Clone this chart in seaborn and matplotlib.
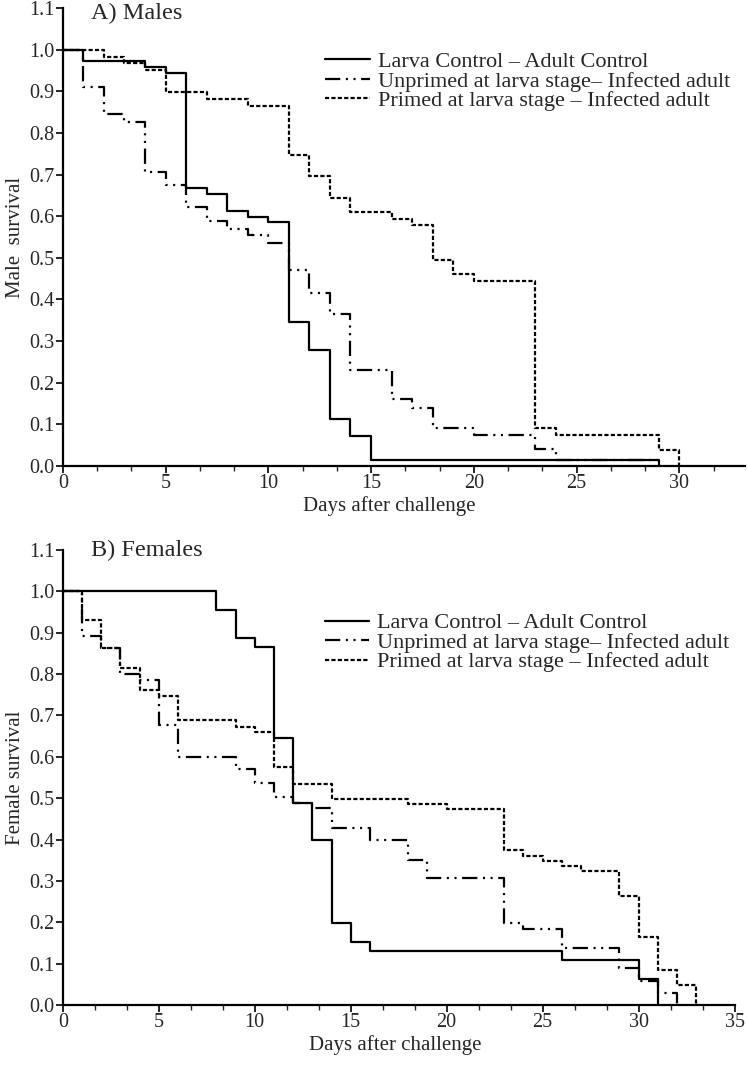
import matplotlib
matplotlib.use("Agg")
import matplotlib.pyplot as plt
from matplotlib.ticker import MultipleLocator
import pandas as pd
import seaborn as sns

# ------------------------------------------------------
# Kaplan-Meier style survival data
# ------------------------------------------------------
groups = [
    "Larva Control \u2013 Adult Control",
    "Unprimed at larva stage\u2013 Infected adult",
    "Primed at larva stage \u2013 Infected adult",
]

# A) Males
male_days_control = [0, 1, 4, 5, 6, 7, 8, 9, 10, 11, 12, 13, 14, 15, 29]
male_surv_control = [1.0, 0.972, 0.958, 0.944, 0.668, 0.654, 0.612, 0.598, 0.586,
                     0.346, 0.278, 0.112, 0.071, 0.015, 0.0]

male_days_unprimed = [0, 1, 2, 3, 4, 5, 6, 7, 8, 9, 10, 11, 12, 13, 14, 16, 17,
                      18, 20, 23, 24, 29]
male_surv_unprimed = [1.0, 0.91, 0.846, 0.826, 0.706, 0.674, 0.622, 0.588, 0.57,
                      0.554, 0.536, 0.47, 0.416, 0.366, 0.23, 0.16, 0.14, 0.092,
                      0.074, 0.04, 0.015, 0.0]

male_days_primed = [0, 2, 3, 4, 5, 7, 9, 11, 12, 13, 14, 16, 17, 18, 19, 20, 23,
                    24, 29, 30]
male_surv_primed = [1.0, 0.982, 0.968, 0.95, 0.898, 0.882, 0.864, 0.746, 0.696,
                    0.644, 0.61, 0.594, 0.578, 0.494, 0.46, 0.444, 0.092, 0.074,
                    0.038, 0.0]

# B) Females
female_days_control = [0, 8, 9, 10, 11, 12, 13, 14, 15, 16, 26, 30, 31]
female_surv_control = [1.0, 0.956, 0.887, 0.866, 0.645, 0.488, 0.398, 0.198,
                       0.153, 0.131, 0.108, 0.062, 0.0]

female_days_unprimed = [0, 1, 2, 3, 4, 5, 6, 9, 10, 11, 12, 13, 14, 16, 18, 19,
                        23, 24, 26, 29, 30, 31, 32]
female_surv_unprimed = [1.0, 0.893, 0.863, 0.80, 0.786, 0.677, 0.6, 0.57, 0.536,
                        0.504, 0.488, 0.476, 0.427, 0.399, 0.351, 0.306, 0.198,
                        0.183, 0.137, 0.089, 0.059, 0.03, 0.0]

female_days_primed = [0, 1, 2, 3, 4, 5, 6, 9, 10, 11, 12, 14, 18, 20, 23, 24,
                      25, 26, 27, 29, 30, 31, 32, 33]
female_surv_primed = [1.0, 0.931, 0.863, 0.815, 0.762, 0.748, 0.688, 0.673,
                      0.661, 0.575, 0.535, 0.498, 0.486, 0.474, 0.375, 0.36,
                      0.349, 0.335, 0.324, 0.264, 0.165, 0.085, 0.048, 0.0]

dash_map = {
    groups[0]: "",
    groups[1]: (11, 4, 1.5, 4, 1.5, 4),
    groups[2]: (3, 1.6),
}


def to_frame(days_list, surv_list):
    parts = []
    for g, d, s in zip(groups, days_list, surv_list):
        parts.append(pd.DataFrame({"day": d, "survival": s, "group": g}))
    return pd.concat(parts, ignore_index=True)


def plot_panel(ax, df, title, ylabel, xmax, leg_anchor, xlabel_x):
    sns.lineplot(data=df, x="day", y="survival", style="group",
                 style_order=groups, dashes=dash_map, color="black",
                 estimator=None, drawstyle="steps-post", linewidth=1.6, ax=ax)
    ax.set_xlim(0, xmax)
    ax.set_ylim(0, 1.1)
    ax.xaxis.set_major_locator(MultipleLocator(5))
    ax.xaxis.set_minor_locator(MultipleLocator(5 / 3))
    ax.yaxis.set_major_locator(MultipleLocator(0.1))
    ax.yaxis.set_major_formatter(plt.FormatStrFormatter("%.1f"))
    ax.tick_params(axis="both", which="major", length=5, width=1.2,
                   labelsize=14.5, pad=1, color="black")
    ax.tick_params(axis="x", which="minor", length=3.5, width=1.0)
    for side in ["top", "right"]:
        ax.spines[side].set_visible(False)
    for side in ["left", "bottom"]:
        ax.spines[side].set_linewidth(1.6)
        ax.spines[side].set_color("black")
    ax.set_xlabel("Days after challenge", fontsize=15, labelpad=0)
    ax.xaxis.set_label_coords(xlabel_x, -0.066, transform=ax.transAxes)
    ax.xaxis.label.set_va("top")
    ax.set_ylabel(ylabel, fontsize=15, labelpad=3)
    ax.text(0.042, leg_anchor[2], title, transform=ax.transAxes,
            fontsize=17.5, va="center", ha="left")
    sns.move_legend(ax, "upper left", bbox_to_anchor=leg_anchor[:2],
                    frameon=False, title=None, fontsize=16, handlelength=2.0,
                    handletextpad=0.35, labelspacing=-0.05, borderpad=0,
                    borderaxespad=0)


sns.set_style("ticks")
plt.rcParams["font.family"] = ["Liberation Serif", "DejaVu Serif"]
plt.rcParams["lines.scale_dashes"] = False

fig = plt.figure(figsize=(7.48, 10.66), dpi=100)
ax1 = fig.add_axes([0.084, 0.5629, 0.912, 0.4296])
ax2 = fig.add_axes([0.084, 0.0572, 0.898, 0.4268])

males = to_frame([male_days_control, male_days_unprimed, male_days_primed],
                 [male_surv_control, male_surv_unprimed, male_surv_primed])
females = to_frame([female_days_control, female_days_unprimed, female_days_primed],
                   [female_surv_control, female_surv_unprimed, female_surv_primed])

plot_panel(ax1, males, "A) Males", "Male  survival", 33.2,
           (0.385, 0.905, 0.989), 0.478)
plot_panel(ax2, females, "B) Females", "Female survival", 35,
           (0.39, 0.862, 1.0), 0.495)

fig.savefig("out.png", dpi=100, facecolor="white")
